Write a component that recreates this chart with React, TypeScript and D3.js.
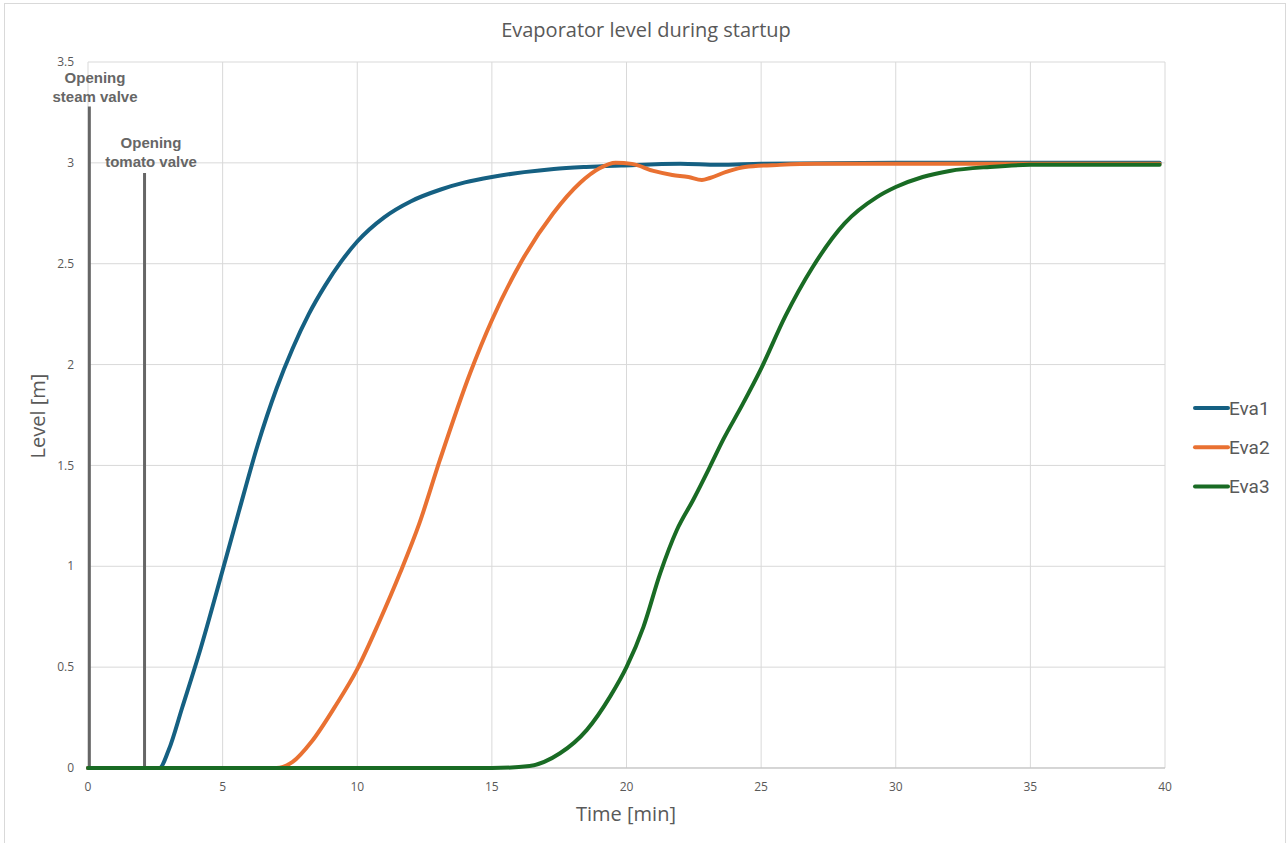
import React from "react";
import * as d3 from "d3";

const eva1T = [0, 2.65, 3.0, 3.5, 4.2, 5, 5.6, 6.3, 7.0, 7.6, 8.2, 8.8, 9.4, 10, 11.0, 12.0, 13.1, 14.0, 15.0, 16.2, 17.3, 18.5, 19.8, 22, 23.4, 25, 30, 39.8];
const eva1V = [0, 0, 0.09, 0.3, 0.6, 0.98, 1.27, 1.6, 1.88, 2.08, 2.25, 2.39, 2.51, 2.61, 2.73, 2.81, 2.868, 2.903, 2.93, 2.954, 2.97, 2.98, 2.987, 2.996, 2.99, 2.995, 3.0, 3.0];

const eva2T = [0, 7.0, 7.6, 8.3, 9.2, 10, 10.8, 11.6, 12.3, 13.07, 14.19, 15.0, 16.05, 17.28, 18.27, 19.0, 19.6, 20.2, 21.0, 21.7, 22.3, 22.8, 23.1, 23.7, 24.4, 25.7, 27, 30, 39.8];
const eva2V = [0, 0, 0.03, 0.13, 0.31, 0.49, 0.72, 0.97, 1.21, 1.527, 1.957, 2.22, 2.5, 2.75, 2.9, 2.973, 3.0, 2.995, 2.96, 2.94, 2.93, 2.915, 2.925, 2.955, 2.98, 2.99, 2.995, 2.995, 2.995];

const eva3T = [0, 15, 16.4, 17.53, 18.52, 19.39, 20, 20.63, 21.25, 21.87, 22.48, 23.1, 23.6, 24.3, 25, 25.9, 26.9, 28.1, 29.3, 30, 31.0, 32, 33.5, 35, 39.8];
const eva3V = [0, 0, 0.01, 0.073, 0.188, 0.354, 0.5, 0.7, 0.965, 1.18, 1.33, 1.494, 1.63, 1.8, 1.98, 2.24, 2.48, 2.7, 2.83, 2.88, 2.93, 2.96, 2.98, 2.99, 2.99];

const seriesNames = ["Eva1", "Eva2", "Eva3"];
const seriesColors = ["#156082", "#E97132", "#196B24"];

const xTicks = [0, 5, 10, 15, 20, 25, 30, 35, 40];
const yTicks = [0, 0.5, 1, 1.5, 2, 2.5, 3, 3.5];

const valveNames = [["Opening", "steam valve"], ["Opening", "tomato valve"]];
const valveTimes = [0.05, 2.1];
const valveTops = [3.28, 2.95];
const valveLabelLevels = [3.42, 3.1];

const W = 1288;
const H = 843;
const FONT = "'Open Sans', 'Liberation Sans', sans-serif";
const TEXT = "#595959";

export default function App() {
  const x = d3.scaleLinear().domain([0, 40]).range([88, 1165]);
  const y = d3.scaleLinear().domain([0, 3.5]).range([768, 62]);

  const series = [
    eva1T.map((t, i) => [t, eva1V[i]] as [number, number]),
    eva2T.map((t, i) => [t, eva2V[i]] as [number, number]),
    eva3T.map((t, i) => [t, eva3V[i]] as [number, number]),
  ];

  const line = d3
    .line<[number, number]>()
    .x((d) => x(d[0]))
    .y((d) => y(d[1]))
    .curve(d3.curveMonotoneX);

  return (
    <svg
      width={W}
      height={H}
      style={{ position: "absolute", left: 0, top: 0, background: "#fff" }}
      fontFamily={FONT}
    >
      <rect x={0} y={0} width={W} height={H} fill="#fff" />
      <rect x={4.5} y={3.5} width={1281} height={850} fill="none" stroke="#d9d9d9" />

      {yTicks.map((v) => (
        <line key={"gy" + v} x1={x(0)} x2={x(40)} y1={y(v)} y2={y(v)} stroke="#d9d9d9" strokeWidth={1} />
      ))}
      {xTicks.map((t) => (
        <line key={"gx" + t} x1={x(t)} x2={x(t)} y1={y(0)} y2={y(3.5)} stroke="#d9d9d9" strokeWidth={1} />
      ))}
      <line x1={x(0)} x2={x(40)} y1={y(0)} y2={y(0)} stroke="#bfbfbf" strokeWidth={1} />

      {yTicks.map((v) => (
        <text key={"ty" + v} x={74} y={y(v)} dy="0.35em" textAnchor="end" fontSize={12} fill={TEXT}>
          {String(v)}
        </text>
      ))}
      {xTicks.map((t) => (
        <text key={"tx" + t} x={x(t)} y={787} dy="0.35em" textAnchor="middle" fontSize={12} fill={TEXT}>
          {String(t)}
        </text>
      ))}

      {valveTimes.map((t, i) => (
        <line key={"v" + i} x1={x(t)} x2={x(t)} y1={y(0)} y2={y(valveTops[i])} stroke="#666666" strokeWidth={3} />
      ))}

      {series.map((s, i) => (
        <path key={"s" + i} d={line(s) || ""} fill="none" stroke={seriesColors[i]} strokeWidth={4} strokeLinejoin="round" strokeLinecap="round" />
      ))}

      {valveTimes.map((t, i) => (
        <text key={"vl" + i} x={i === 0 ? 95 : 151} y={y(valveLabelLevels[i])} textAnchor="middle" fontSize={15} fontWeight="bold" fill="#666666" fontFamily="'Liberation Sans', Arial, sans-serif">
          <tspan x={i === 0 ? 95 : 151} dy="0.35em">{valveNames[i][0]}</tspan>
          <tspan x={i === 0 ? 95 : 151} dy="1.25em">{valveNames[i][1]}</tspan>
        </text>
      ))}

      <text x={646} y={30} dy="0.35em" textAnchor="middle" fontSize={20} fill={TEXT}>
        Evaporator level during startup
      </text>

      <text x={626} y={814} dy="0.35em" textAnchor="middle" fontSize={20} fill={TEXT}>
        Time [min]
      </text>
      <text transform="translate(38,416) rotate(-90)" dy="0.35em" textAnchor="middle" fontSize={20} fill={TEXT}>
        Level [m]
      </text>

      {seriesNames.map((n, i) => (
        <g key={"lg" + i} transform={`translate(1195,${408 + i * 39.3})`}>
          <line x1={0} x2={33} y1={0} y2={0} stroke={seriesColors[i]} strokeWidth={4} strokeLinecap="round" />
          <text x={34} y={0} dy="0.35em" fontSize={19} fill={TEXT} fontFamily="'Liberation Sans Narrow', 'Roboto', sans-serif">
            {n}
          </text>
        </g>
      ))}
    </svg>
  );
}
